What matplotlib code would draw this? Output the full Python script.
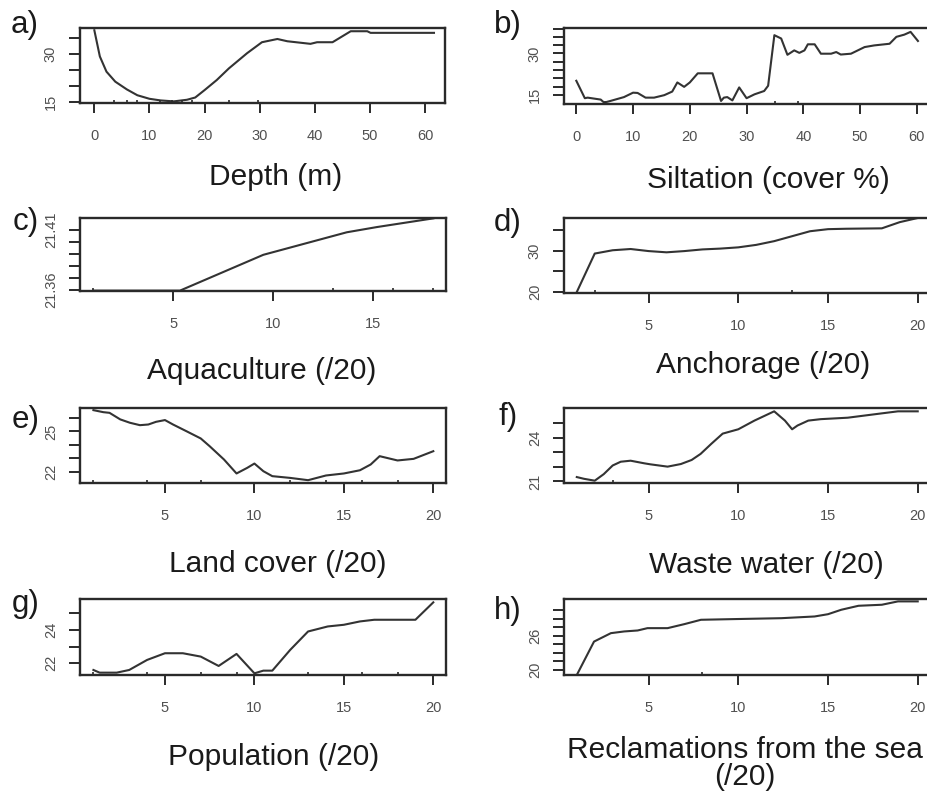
import matplotlib
matplotlib.use('Agg')
import matplotlib.pyplot as plt

plt.rcParams['font.family'] = ['Liberation Sans', 'DejaVu Sans']

# ---------------- data ----------------
depth_x = [0, 1, 2.2, 3.8, 5.9, 7.8, 10, 12, 14.4, 16.8, 18.3, 20, 22.2, 24.4, 27.7,
           30.4, 33.2, 35, 39.2, 40.4, 43.2, 46.5, 49.5, 50.1, 61.6]
depth_y = [37.3, 29.2, 24.5, 21.4, 19.0, 17.2, 16.1, 15.6, 15.3, 15.8, 16.5, 18.8, 21.9,
           25.5, 30.2, 33.6, 34.6, 33.9, 33.1, 33.6, 33.6, 37.0, 37.0, 36.5, 36.5]

silt_x = [0, 1.5, 2, 4.3, 4.9, 6, 8.4, 10, 10.8, 12.2, 13.7, 15.5, 16.9, 17.8, 19, 20,
          21.4, 24, 25.5, 26, 26.6, 27.5, 28.7, 30, 31.4, 33.1, 33.8, 34.9, 36.1, 37.2,
          38.4, 39.3, 40.2, 40.8, 42, 43.1, 44.9, 45.8, 46.6, 48.4, 50.8, 52.5, 55.2,
          56.4, 57.8, 58.9, 60.2]
silt_y = [20.1, 13.8, 14.0, 13.3, 12.2, 12.8, 14.2, 15.8, 15.7, 14.0, 14.0, 14.9, 16.2,
          19.5, 17.9, 19.5, 22.8, 22.8, 12.8, 14.0, 14.2, 13.0, 17.7, 13.8, 15.2, 16.4,
          18.3, 36.6, 35.4, 29.5, 31.1, 30.2, 31.1, 33.3, 33.3, 29.9, 29.9, 30.5, 29.6,
          29.9, 32.3, 32.9, 33.5, 36.0, 36.8, 37.8, 34.5]

aqua_x = [1, 5.33, 9.5, 13.67, 15.17, 18]
aqua_y = [21.3595, 21.3595, 21.3891, 21.4077, 21.412, 21.4192]

anch_x = list(range(1, 21))
anch_y = [20.0, 29.3, 30.1, 30.4, 29.9, 29.6, 29.9, 30.3, 30.5, 30.8, 31.4, 32.3, 33.5,
          34.7, 35.2, 35.3, 35.35, 35.4, 36.9, 37.9]

land_x = [1, 1.55, 1.9, 2.5, 3.04, 3.6, 4.07, 4.5, 5, 5.45, 6.2, 7, 7.5, 8.3, 9, 9.6, 10,
          10.5, 11, 12, 13, 14, 15, 15.9, 16.5, 17, 18, 18.9, 20]
land_y = [26.59, 26.44, 26.39, 25.9, 25.65, 25.47, 25.52, 25.72, 25.85, 25.52, 25.02,
          24.48, 23.9, 22.91, 21.87, 22.29, 22.61, 22.04, 21.67, 21.54, 21.37, 21.72,
          21.87, 22.11, 22.54, 23.16, 22.84, 22.96, 23.53]

waste_x = [1, 1.4, 2, 2.5, 3, 3.45, 4, 4.76, 5.1, 6.06, 6.8, 7.4, 7.9, 8.5, 9.13, 10,
           10.9, 12, 12.6, 13, 13.3, 13.9, 14.6, 16.1, 18, 18.9, 20]
waste_y = [21.3, 21.18, 21.05, 21.5, 22.1, 22.36, 22.43, 22.25, 22.18, 22.02, 22.2,
           22.48, 22.9, 23.6, 24.3, 24.6, 25.2, 25.84, 25.2, 24.6, 24.86, 25.2, 25.3,
           25.4, 25.7, 25.84, 25.84]

pop_x = [1, 1.35, 2.3, 3, 4, 5, 6, 7, 8, 9, 10, 10.5, 11, 12, 13, 14.1, 15, 15.9, 16.7,
         19, 20]
pop_y = [21.6, 21.44, 21.44, 21.6, 22.2, 22.6, 22.6, 22.4, 21.84, 22.56, 21.4, 21.56,
         21.56, 22.8, 23.9, 24.2, 24.3, 24.5, 24.6, 24.6, 25.64]

recl_x = [1, 1.96, 2.9, 3.64, 4.39, 4.94, 6.06, 7, 7.92, 9.6, 12.4, 14.25, 15, 15.74,
          16.7, 18, 18.9, 20]
recl_y = [19.12, 24.99, 26.47, 26.77, 26.94, 27.35, 27.35, 28.06, 28.82, 28.93, 29.1,
          29.4, 29.8, 30.58, 31.28, 31.46, 32.05, 32.05]

# rug (data deciles) marks along the bottom
depth_rug = [3.5, 5.9, 7.7, 12, 14.1, 15.9, 17.7, 24.4, 29.6]
silt_rug = [5, 35, 39]
aqua_rug = [1, 13, 16, 18]
anch_rug = [2, 13]
land_rug = [1, 4, 7, 12, 14, 16, 18]
waste_rug = [3]
pop_rug = [1, 4, 7, 9, 13, 16, 18]
recl_rug = [8]

xlabels = ['Depth (m)', 'Siltation (cover %)', 'Aquaculture (/20)', 'Anchorage (/20)',
           'Land cover (/20)', 'Waste water (/20)', 'Population (/20)',
           'Reclamations from the sea\n(/20)']
letters = ['a)', 'b)', 'c)', 'd)', 'e)', 'f)', 'g)', 'h)']

# ---------------- layout ----------------
W, H = 928, 793
fig = plt.figure(figsize=(W / 100, H / 100), dpi=100)

def px_axes(left, top, right, bottom):
    return fig.add_axes([left / W, 1 - bottom / H, (right - left) / W, (bottom - top) / H])

LINE = '#333333'
BOX = '#2a2a2a'
TICKC = '#505050'

panels = [
    dict(x=depth_x, y=depth_y, rug=depth_rug, box=(80, 28, 445, 103), xlim=(-2.6, 63.6),
         ylim=(14.8, 38.0), xt=[0, 10, 20, 30, 40, 50, 60], yt=[15, 20, 25, 30, 35],
         yl={15: '15', 30: '30'}, lab=(276, 185), let=(11, 33)),
    dict(x=silt_x, y=silt_y, rug=silt_rug, box=(564, 28, 931, 104), xlim=(-2.17, 62.5),
         ylim=(11.7, 39.2), xt=[0, 10, 20, 30, 40, 50, 60],
         yt=[15, 18, 21, 24, 27, 30, 33, 36, 39], yl={15: '15', 30: '30'},
         lab=(768, 188), let=(494, 33)),
    dict(x=aqua_x, y=aqua_y, rug=aqua_rug, box=(80, 218, 446, 291), xlim=(0.335, 18.63),
         ylim=(21.3592, 21.4195), xt=[5, 10, 15],
         yt=[21.36, 21.37, 21.38, 21.39, 21.40, 21.41], yl={21.36: '21.36', 21.41: '21.41'},
         lab=(262, 379), let=(13, 230)),
    dict(x=anch_x, y=anch_y, rug=anch_rug, box=(564, 218, 931, 293), xlim=(0.287, 20.74),
         ylim=(19.76, 37.9), xt=[5, 10, 15, 20], yt=[20, 25, 30, 35],
         yl={20: '20', 30: '30'}, lab=(763, 373), let=(494, 231)),
    dict(x=land_x, y=land_y, rug=land_rug, box=(80, 408, 446, 483), xlim=(0.25, 20.71),
         ylim=(21.16, 26.75), xt=[5, 10, 15, 20], yt=[22, 23, 24, 25, 26],
         yl={22: '22', 25: '25'}, lab=(278, 572), let=(12, 428)),
    dict(x=waste_x, y=waste_y, rug=waste_rug, box=(564, 408, 931, 483), xlim=(0.287, 20.74),
         ylim=(20.89, 26.07), xt=[5, 10, 15, 20], yt=[21, 22, 23, 24, 25],
         yl={21: '21', 24: '24'}, lab=(766, 573), let=(499, 425)),
    dict(x=pop_x, y=pop_y, rug=pop_rug, box=(80, 599, 446, 675), xlim=(0.25, 20.71),
         ylim=(21.3, 25.84), xt=[5, 10, 15, 20], yt=[22, 23, 24, 25],
         yl={22: '22', 24: '24'}, lab=(274, 765), let=(12, 612)),
    dict(x=recl_x, y=recl_y, rug=recl_rug, box=(564, 599, 931, 675), xlim=(0.287, 20.74),
         ylim=(19.12, 32.47), xt=[5, 10, 15, 20],
         yt=[20, 21.5, 23, 24.5, 26, 27.5, 29, 30.5], yl={20: '20', 26: '26'},
         lab=(745, 758), let=(494, 619)),
]

for i, p in enumerate(panels):
    ax = px_axes(*p['box'])
    ax.plot(p['x'], p['y'], color=LINE, lw=1.5, solid_joinstyle='round')
    ax.vlines(p['rug'], 0, 0.035, transform=ax.get_xaxis_transform(), color=BOX, lw=1.2)
    ax.set_xlim(*p['xlim'])
    ax.set_ylim(*p['ylim'])
    ax.set_xticks(p['xt'])
    ax.set_xticklabels([str(v) for v in p['xt']])
    ax.set_yticks(p['yt'])
    ax.set_yticklabels([p['yl'].get(v, '') for v in p['yt']])
    for s in ax.spines.values():
        s.set_color(BOX)
        s.set_linewidth(1.7)
    ax.tick_params(axis='x', length=7, width=1.4, color=BOX, pad=12, labelsize=10.5,
                   labelcolor=TICKC)
    ax.tick_params(axis='y', length=8, width=1.4, color=BOX, pad=8, labelsize=10.5,
                   labelcolor=TICKC, labelrotation=90)
    for t in ax.get_yticklabels():
        t.set_verticalalignment('center')
    lx, ly = p['lab']
    lines = xlabels[i].split('\n')
    for k, line in enumerate(lines):
        fig.text(lx / W, 1 - (ly + k * 27) / H, line, ha='center', va='baseline',
                 fontsize=21.5, color='#1a1a1a')
    gx, gy = p['let']
    fig.text(gx / W, 1 - gy / H, letters[i], ha='left', va='baseline', fontsize=22.5,
             color='#1a1a1a')

fig.savefig('out.png', dpi=100)
